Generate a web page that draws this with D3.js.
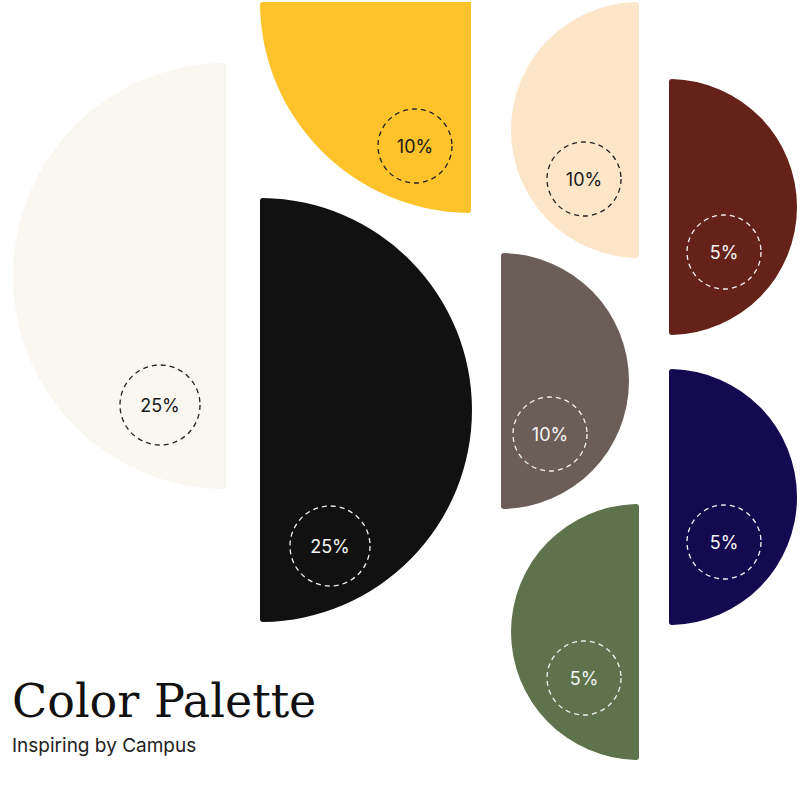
<!DOCTYPE html>
<html>
<head>
<meta charset="utf-8">
<script src="https://cdn.jsdelivr.net/npm/d3@7"></script>
<style>
  body { margin: 0; background: #fff; }
</style>
</head>
<body>
<div id="chart"></div>
<script>
// palette shares
const names = ["Cream", "Yellow", "Black", "Peach", "Maroon", "Taupe", "Navy", "Olive"];
const shares = [25, 10, 25, 10, 5, 10, 5, 5];
const colors = ["#faf6f0", "#fec22a", "#111111", "#fde6c8", "#652218", "#6b5e58", "#140a50", "#5e734c"];

// layout: centre of the flat edge, radius, angle span, label position
const cx = [226, 471, 260, 639, 669, 501, 669, 639];
const cy = [276, 2, 410, 130, 207, 381, 497, 632];
const radius = [213, 211, 212, 128, 128, 128, 128, 128];
const start = [Math.PI, Math.PI, 0, Math.PI, 0, 0, 0, Math.PI];
const end = [2 * Math.PI, 1.5 * Math.PI, Math.PI, 2 * Math.PI, Math.PI, Math.PI, Math.PI, 2 * Math.PI];
const labelX = [160, 415, 330, 584, 724, 550, 724, 584];
const labelY = [405, 146, 546, 179, 252, 434, 542, 678];
const labelR = [40, 37, 40, 37, 37, 37, 37, 37];
const darkBg = [false, false, true, false, true, true, true, true];

const svg = d3.select("#chart").append("svg")
    .attr("width", 800)
    .attr("height", 800);

const arc = d3.arc().innerRadius(0).cornerRadius(3);

const g = svg.selectAll("g.swatch")
    .data(names.map((n, i) => i))
    .enter()
    .append("g")
    .attr("class", "swatch");

g.append("path")
    .attr("transform", i => `translate(${cx[i]},${cy[i]})`)
    .attr("d", i => arc({outerRadius: radius[i], startAngle: start[i], endAngle: end[i]}))
    .style("fill", i => colors[i]);

g.append("circle")
    .attr("cx", i => labelX[i])
    .attr("cy", i => labelY[i])
    .attr("r", i => labelR[i])
    .style("fill", "none")
    .style("stroke", i => darkBg[i] ? "#f2f2f2" : "#222")
    .style("stroke-width", 1.3)
    .style("stroke-dasharray", "5,4");

g.append("text")
    .attr("x", i => labelX[i])
    .attr("y", i => labelY[i])
    .attr("text-anchor", "middle")
    .attr("dominant-baseline", "central")
    .style("font-family", "Inter, 'Noto Sans', sans-serif")
    .style("font-size", "18px")
    .style("fill", i => darkBg[i] ? "#f5f5f5" : "#1a1a1a")
    .text(i => shares[i] + "%");

svg.append("text")
    .attr("x", 12)
    .attr("y", 717)
    .style("font-family", "'DejaVu Serif', 'Liberation Serif', serif")
    .style("font-size", "46px")
    .style("fill", "#111")
    .text("Color Palette");

svg.append("text")
    .attr("x", 12)
    .attr("y", 752)
    .style("font-family", "Inter, 'Noto Sans', sans-serif")
    .style("font-size", "19px")
    .style("fill", "#222")
    .text("Inspiring by Campus");
</script>
</body>
</html>
